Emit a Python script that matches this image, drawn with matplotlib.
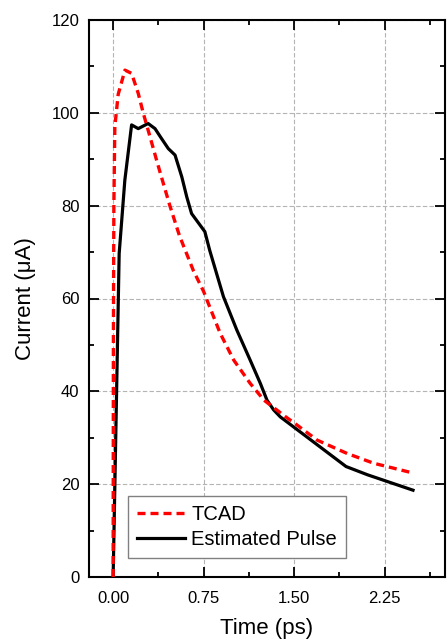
import matplotlib
matplotlib.use("Agg")
import matplotlib.pyplot as plt
from matplotlib.ticker import MultipleLocator, FormatStrFormatter

plt.rcParams['font.family'] = ['Liberation Sans', 'DejaVu Sans']

# TCAD simulated current (time in ps, current in uA)
tcad_t = [0.0, 0.002, 0.006, 0.014, 0.042, 0.098, 0.153, 0.208, 0.25, 0.305,
          0.36, 0.40, 0.47, 0.55, 0.665, 0.75, 0.80, 0.887, 1.0, 1.136, 1.25,
          1.43, 1.50, 1.69, 1.94, 2.16, 2.47]
tcad_i = [0.0, 50.0, 80.0, 97.0, 104.0, 109.2, 108.5, 104.2, 99.9, 94.9,
          89.8, 86.2, 80.0, 73.5, 66.0, 61.5, 58.2, 52.5, 46.7, 41.7, 38.1,
          34.5, 33.2, 29.5, 26.6, 24.5, 22.5]

# Estimated pulse
est_t = [0.0, 0.05, 0.097, 0.153, 0.208, 0.29, 0.347, 0.40, 0.457, 0.513,
         0.569, 0.61, 0.65, 0.76, 0.80, 0.914, 1.025, 1.136, 1.22, 1.275,
         1.33, 1.385, 1.66, 1.93, 2.11, 2.485]
est_i = [0.0, 69.7, 85.5, 97.4, 96.6, 97.7, 96.6, 94.5, 92.3, 90.9,
         86.2, 81.9, 78.3, 74.4, 70.4, 60.4, 53.2, 46.7, 41.7, 38.1,
         36.0, 34.5, 29.1, 23.8, 22.0, 18.7]

x_ticks = [0.00, 0.75, 1.50, 2.25]
y_ticks = [0, 20, 40, 60, 80, 100, 120]

fig = plt.figure(figsize=(4.47, 6.43), dpi=100)
ax = fig.add_axes([89 / 447, 1 - 577 / 643, 356 / 447, 557 / 643])

ax.plot(est_t, est_i, color='black', lw=2.3, label='Estimated Pulse', zorder=3,
        solid_joinstyle='round')
ax.plot(tcad_t, tcad_i, color='#ff0000', lw=2.4, ls=(0, (2.4, 1.5)), label='TCAD',
        zorder=4)

ax.set_xlim(-0.2, 2.75)
ax.set_ylim(0, 120)
ax.set_xticks(x_ticks)
ax.set_yticks(y_ticks)
ax.xaxis.set_minor_locator(MultipleLocator(0.375))
ax.yaxis.set_minor_locator(MultipleLocator(10))
ax.xaxis.set_major_formatter(FormatStrFormatter('%.2f'))

ax.grid(True, which='major', color='#b4b4b4', ls=(0, (4, 2)), lw=0.8, zorder=0)
ax.set_axisbelow(True)

ax.tick_params(which='both', direction='in', top=True, right=True,
               labelsize=12, width=1.3)
ax.tick_params(axis='y', which='both', pad=7)
ax.tick_params(axis='x', which='both', pad=10)
ax.tick_params(which='major', length=7)
ax.tick_params(which='minor', length=3.5)
for sp in ax.spines.values():
    sp.set_linewidth(1.5)

ax.set_xlabel('Time (ps)', fontsize=16, labelpad=9)
ax.set_ylabel('Current (μA)', fontsize=16, labelpad=11)

handles, labels = ax.get_legend_handles_labels()
leg = ax.legend(handles[::-1], labels[::-1], loc='lower left',
                bbox_to_anchor=(39 / 356, 19 / 557), borderaxespad=0,
                fontsize=14.5, fancybox=False, edgecolor='#808080',
                handlelength=2.4, handletextpad=0.3, labelspacing=0.3,
                borderpad=0.45, framealpha=1)
leg.get_frame().set_linewidth(1.0)

fig.savefig('out.png', dpi=100)
